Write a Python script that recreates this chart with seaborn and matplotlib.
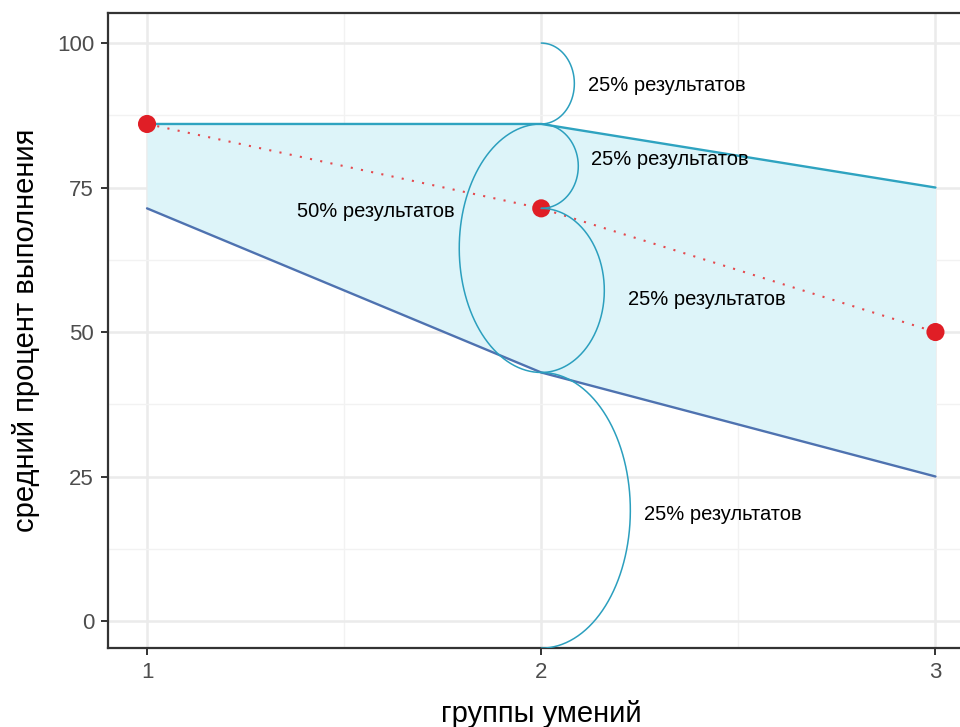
import numpy as np
import seaborn as sns
import matplotlib.pyplot as plt
import pandas as pd

sns.set_style('white')
plt.rcParams['font.family'] = ['Liberation Sans Narrow', 'Liberation Sans', 'DejaVu Sans']

# данные
groups = [1, 2, 3]
upper = [86, 86, 75]
lower = [71.4, 43, 25]
median = [86, 71.4, 50]
whisker_top = 100
whisker_bottom = -4.7
label_text = '25% результатов'
label_mid = '50% результатов'

df = pd.DataFrame({'group': groups, 'upper': upper, 'lower': lower, 'median': median})

fig = plt.figure(figsize=(9.6, 7.27), dpi=100)
ax = fig.add_axes([0.1125, 0.1087, 0.903, 0.8734])

c_up = '#2EA3C0'
c_low = '#4E72B0'
c_arc = '#2B9FBE'

ax.fill_between(df['group'], df['lower'], df['upper'], color='#DDF4F9', zorder=1, lw=0)
sns.lineplot(data=df, x='group', y='upper', color=c_up, lw=1.7, ax=ax, zorder=3)
sns.lineplot(data=df, x='group', y='lower', color=c_low, lw=1.7, ax=ax, zorder=3)
sns.lineplot(data=df, x='group', y='median', color='#E4484D', lw=1.5, ax=ax,
             linestyle=(0, (1, 4)), zorder=4)
sns.scatterplot(data=df, x='group', y='median', color='#E01E26', s=170, ax=ax,
                edgecolor='none', zorder=5)


# полуэллипсы-скобки у группы 2
def arc(y0, y1, w, side=1):
    t = np.linspace(-np.pi / 2, np.pi / 2, 200)
    mid = (y0 + y1) / 2
    h = (y0 - y1) / 2
    ax.plot(groups[1] + side * w * np.cos(t), mid + h * np.sin(t), color=c_arc, lw=1.1, zorder=6)


arc(whisker_top, upper[1], 0.084)
arc(upper[1], median[1], 0.094)
arc(median[1], lower[1], 0.160)
arc(lower[1], whisker_bottom, 0.226)
arc(upper[1], lower[1], 0.208, side=-1)

fs = 14.5
for x, y, s in [(2.119, 92.6, label_text), (2.127, 79.8, label_text), (1.381, 70.8, label_mid),
                (2.221, 55.7, label_text), (2.261, 18.5, label_text)]:
    ax.text(x, y, s, fontsize=fs, va='center', color='black', zorder=7)

ax.set_xlim(0.901, 3.1)
ax.set_ylim(-4.67, 105.2)
ax.set_xticks([1, 2, 3])
ax.set_yticks([0, 25, 50, 75, 100])
ax.set_xticks([1.5, 2.5], minor=True)
ax.set_yticks([12.5, 37.5, 62.5, 87.5], minor=True)
ax.grid(which='major', color='#EBEBEB', lw=1.8, zorder=0)
ax.grid(which='minor', color='#F2F2F2', lw=1.0, zorder=0)
ax.set_axisbelow(True)

for s in ax.spines.values():
    s.set_color('#333333')
    s.set_linewidth(1.6)
ax.tick_params(which='major', direction='out', length=5, width=1.4, color='#333333',
               labelsize=16, labelcolor='#4D4D4D', pad=5, left=True, bottom=True)
ax.tick_params(which='minor', length=0)

ax.set_xlabel('группы умений', fontsize=21, labelpad=12, color='black')
ax.set_ylabel('средний процент выполнения', fontsize=21, labelpad=12, color='black')

fig.savefig('out.png', dpi=100)
